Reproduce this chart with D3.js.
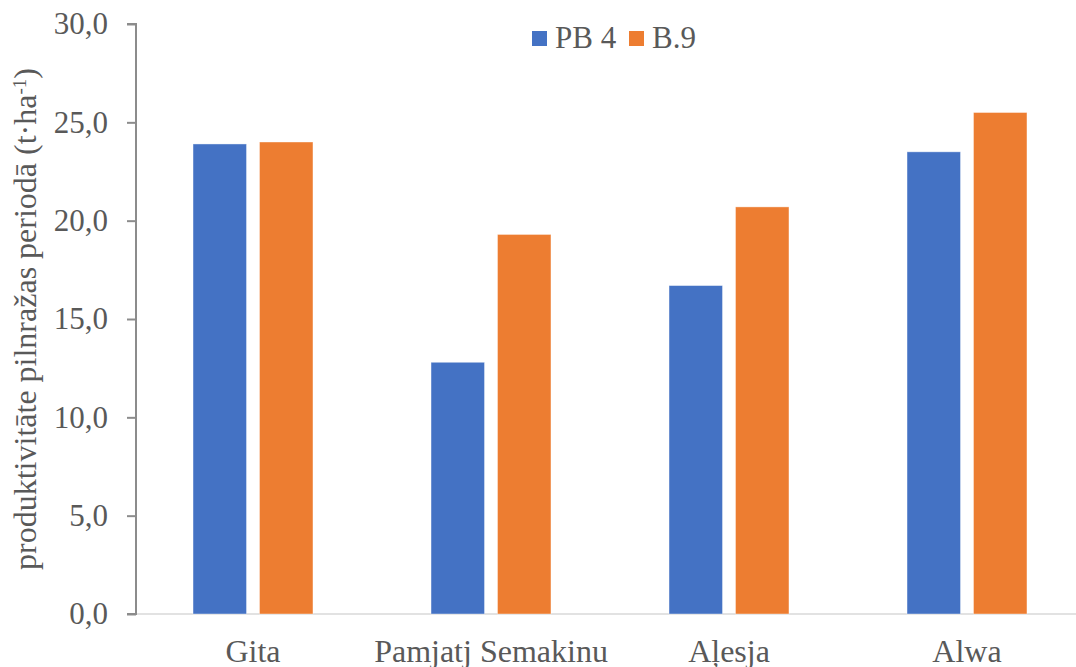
<!DOCTYPE html>
<html>
<head>
<meta charset="utf-8">
<script src="https://cdn.jsdelivr.net/npm/d3@7"></script>
<style>
  html, body { margin: 0; padding: 0; background: #fff; }
  svg { display: block; }
</style>
</head>
<body>
<svg id="chart" width="1076" height="667"></svg>
<script>
// Cultivars on the x axis
const categories = ["Gita", "Pamjatj Semakinu", "Aļesja", "Alwa"];
// Series (rootstocks) and their yields, t·ha-1
const seriesNames = ["PB 4", "B.9"];
const pb4Values = [23.9, 12.8, 16.7, 23.5];
const b9Values = [24.0, 19.3, 20.7, 25.5];
const seriesColors = ["#4472C4", "#ED7D31"];
// Y axis ticks
const yTicks = [0, 5, 10, 15, 20, 25, 30];

const seriesValues = [pb4Values, b9Values];
const FONT = "'Liberation Serif', 'Times New Roman', serif";

const svg = d3.select("#chart");
const W = 1076, H = 667;
const plot = { left: 136, right: 1086, top: 24, bottom: 614 };

const y = d3.scaleLinear().domain([0, 30]).range([plot.bottom, plot.top]);

const x0 = d3.scaleBand()
  .domain(categories)
  .range([plot.left - 2, plot.right])
  .paddingInner(0.496)
  .paddingOuter(0.248);

const x1 = d3.scaleBand()
  .domain(seriesNames)
  .range([0, x0.bandwidth()])
  .paddingInner(0.195);

// Baseline along the category axis
svg.append("line")
  .attr("x1", plot.left).attr("x2", W)
  .attr("y1", y(0)).attr("y2", y(0))
  .attr("stroke", "#d9d9d9").attr("stroke-width", 1.5);

// Bars
const groups = svg.append("g").selectAll("g")
  .data(categories)
  .join("g")
  .attr("transform", d => `translate(${x0(d)},0)`);

groups.selectAll("rect")
  .data((c, i) => seriesNames.map((s, j) => ({ s, j, v: seriesValues[j][i] })))
  .join("rect")
  .attr("x", d => x1(d.s))
  .attr("width", x1.bandwidth())
  .attr("y", d => y(d.v))
  .attr("height", d => y(0) - y(d.v))
  .attr("fill", d => seriesColors[d.j])
  .attr("stroke", "#ffffff")
  .attr("stroke-opacity", 0.5)
  .attr("stroke-width", 0.8);

// Y axis
const yAxis = d3.axisLeft(y)
  .tickValues(yTicks)
  .tickSize(9)
  .tickPadding(19)
  .tickFormat(d => d3.format(".1f")(d).replace(".", ","));

const ya = svg.append("g")
  .attr("transform", `translate(${plot.left},0)`)
  .call(yAxis);
ya.attr("font-family", FONT).attr("font-size", 31);
ya.select(".domain").attr("stroke", "#8c8c8c").attr("stroke-width", 2)
  .attr("d", `M-9,${plot.top}H0V${plot.bottom}H-9`);
ya.selectAll(".tick line").attr("stroke", "#8c8c8c").attr("stroke-width", 2);
ya.selectAll(".tick text")
  .attr("fill", "#595959")
  .attr("font-family", FONT)
  .attr("font-size", 31);

// X labels
svg.append("g").selectAll("text")
  .data(categories)
  .join("text")
  .attr("x", d => x0(d) + x0.bandwidth() / 2)
  .attr("y", 662)
  .attr("text-anchor", "middle")
  .attr("fill", "#595959")
  .attr("font-family", FONT)
  .attr("font-size", 32)
  .text(d => d);

// Y axis title
const yTitle = svg.append("text")
  .attr("transform", `translate(36,${(plot.top + plot.bottom) / 2}) rotate(-90)`)
  .attr("text-anchor", "middle")
  .attr("fill", "#595959")
  .attr("font-family", FONT)
  .attr("font-size", 32);
yTitle.append("tspan").text("produktivitāte pilnražas periodā (t·ha");
yTitle.append("tspan").attr("baseline-shift", "super").attr("font-size", 19).text("-1");
yTitle.append("tspan").text(")");

// Legend
const legend = svg.append("g");
const legendX = [532, 629];
seriesNames.forEach((s, i) => {
  legend.append("rect")
    .attr("x", legendX[i]).attr("y", 31)
    .attr("width", 15).attr("height", 15)
    .attr("fill", seriesColors[i]);
  legend.append("text")
    .attr("x", legendX[i] + 23).attr("y", 48)
    .attr("fill", "#595959")
    .attr("font-family", FONT)
    .attr("font-size", 31)
    .text(s);
});
</script>
</body>
</html>
